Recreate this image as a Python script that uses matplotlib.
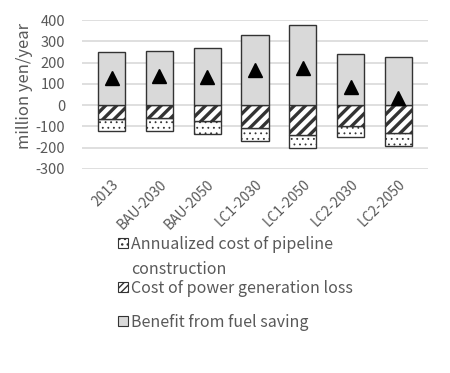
import numpy as np
import matplotlib
matplotlib.use('Agg')
from matplotlib import pyplot as plt
from matplotlib.patches import Rectangle

plt.rcParams['font.family'] = ['Noto Sans CJK JP', 'DejaVu Sans']
plt.rcParams['axes.unicode_minus'] = False

cases = ['2013', 'BAU-2030', 'BAU-2050', 'LC1-2030', 'LC1-2050', 'LC2-2030', 'LC2-2050']
benefit = [252, 257, 267, 332, 378, 242, 228]
power_loss = [-65, -62, -76, -107, -141, -96, -132]
pipeline = [-57, -60, -60, -60, -60, -53, -59]
net = [130, 135, 131, 167, 175, 87, 33]

labels = ['Annualized cost of pipeline\nconstruction', 'Cost of power generation loss',
          'Benefit from fuel saving']

grey = '#595959'
edge = '#333333'
x = np.arange(len(cases))
w = 0.57

fig = plt.figure(figsize=(4.5, 3.73), dpi=100)
ax = fig.add_axes([0.182, 0.547, 0.769, 0.399])

b_pipe = ax.bar(x, pipeline, w, bottom=power_loss, color='white', edgecolor=edge,
                linewidth=1, hatch='...', zorder=3)
b_loss = ax.bar(x, power_loss, w, color='white', edgecolor=edge, linewidth=1,
                hatch='///', zorder=3)
b_ben = ax.bar(x, benefit, w, color='#d9d9d9', edgecolor=edge, linewidth=1, zorder=3)
for bars, lw in ((b_pipe, 0.6), (b_loss, 2.4)):
    for p in bars:
        try:
            p.set_hatch_linewidth(lw)
        except AttributeError:
            pass

ax.plot(x, net, linestyle='none', marker='^', color='black', markersize=10, zorder=4)

ax.set_ylim(-300, 400)
ax.set_xlim(-0.62, 6.62)
ax.set_yticks(range(-300, 401, 100))
ax.yaxis.grid(True, color='#d9d9d9', linewidth=1.2, zorder=0)
for s in ax.spines.values():
    s.set_visible(False)
ax.tick_params(axis='y', length=0, colors=grey, labelsize=10.5, pad=12)
ax.tick_params(axis='x', length=0, colors=grey, labelsize=10, pad=6)
ax.set_xticks(x)
ax.set_xticklabels(cases, rotation=45, ha='right', rotation_mode='anchor')
ax.set_ylabel('million yen/year', fontsize=12, color=grey)
ax.yaxis.set_label_coords(-0.142, 0.56)

# legend, drawn by hand so the box sits on the first line of a two-line label
leg_y = [243, 287, 321]
styles = [dict(facecolor='white', hatch='...'), dict(facecolor='white', hatch='/////'),
          dict(facecolor='#d9d9d9')]
for lab, yy, st in zip(labels, leg_y, styles):
    yf = 1 - yy / 373
    fig.patches.append(Rectangle((118 / 450, yf - 5 / 373), 10 / 450, 10 / 373,
                                 transform=fig.transFigure, edgecolor=edge,
                                 linewidth=0.8, **st))
    fig.text(131 / 450, yf + 7 / 373, lab, fontsize=11.5, color=grey, va='top',
             linespacing=1.6)

fig.savefig('out.png', dpi=100)
